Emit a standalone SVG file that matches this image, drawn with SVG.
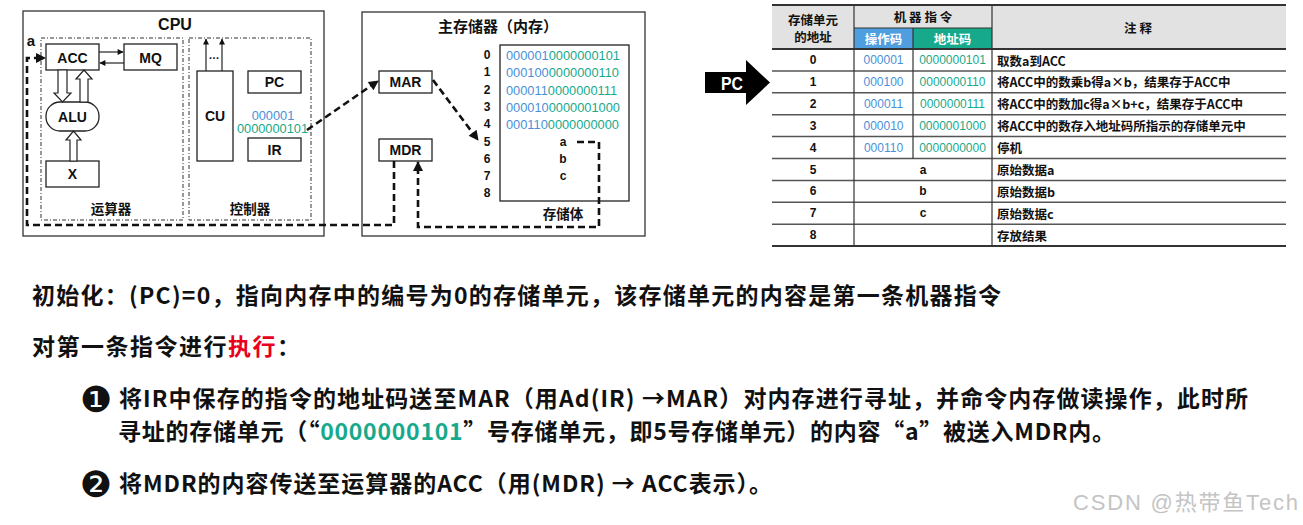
<svg xmlns="http://www.w3.org/2000/svg" width="1303" height="525" viewBox="0 0 1303 525">
<defs>
<style>
.t{font-family:"Liberation Sans","Noto Sans CJK SC",sans-serif;font-weight:bold;fill:#111;text-anchor:middle;dominant-baseline:central}
.c{font-family:"Noto Sans CJK SC",sans-serif;font-weight:bold;fill:#111;text-anchor:middle;dominant-baseline:central}
.box{fill:#fff;stroke:#222;stroke-width:1.3}
.frame{fill:#fff;stroke:#333;stroke-width:1.3}
.dd{fill:none;stroke:#333;stroke-width:1;stroke-dasharray:4 2 1 2}
.dash{fill:none;stroke:#111;stroke-width:2.6;stroke-dasharray:7 4}
.thin{fill:none;stroke:#222;stroke-width:1.2}
.hollow{fill:#fff;stroke:#222;stroke-width:1.2}
.bin{font-family:"Liberation Sans",sans-serif;font-size:12.8px;dominant-baseline:central}
.blue{fill:#4a90d9}
.teal{fill:#17a98b}
.num{font-family:"Liberation Sans",sans-serif;font-weight:bold;font-size:12px;fill:#111;text-anchor:middle;dominant-baseline:central}
.tb{font-family:"Liberation Sans",sans-serif;font-size:12px;text-anchor:middle;dominant-baseline:central}
.note{font-family:"Noto Sans CJK SC",sans-serif;font-weight:bold;font-size:12.5px;fill:#111;dominant-baseline:central}
.hl{stroke:#555;stroke-width:1.5}
.hd{stroke:#333;stroke-width:2}
.vl{stroke:#333;stroke-width:1.2}
.body{font-family:"Noto Sans CJK SC",sans-serif;font-weight:bold;font-size:23px;fill:#111;dominant-baseline:central}
.bullet{font-family:"DejaVu Sans","Noto Sans CJK SC",sans-serif;font-size:36px;fill:#111;text-anchor:middle;dominant-baseline:central}
</style>
<marker id="ah" viewBox="0 0 10 10" refX="9" refY="5" markerWidth="11" markerHeight="10" markerUnits="userSpaceOnUse" orient="auto">
<path d="M0,0 L10,5 L0,10 z" fill="#111"/>
</marker>
<marker id="as" viewBox="0 0 10 10" refX="9" refY="5" markerWidth="8" markerHeight="6" markerUnits="userSpaceOnUse" orient="auto">
<path d="M0,0 L10,5 L0,10 z" fill="#111"/>
</marker>
</defs>
<rect width="1303" height="525" fill="#fff"/>

<!-- CPU frame -->
<g id="cpu">
<rect class="frame" x="23" y="11" width="301" height="225"/>
<text class="t" x="175" y="24" font-size="16">CPU</text>
</g>
<g id="alu-unit">
<rect class="dd" x="41" y="38" width="142" height="182"/>
<text class="c" x="111" y="208" font-size="13.5">运算器</text>
</g>
<g id="ctrl-unit">
<rect class="dd" x="189" y="38" width="122" height="182"/>
<text class="c" x="250" y="208" font-size="13.5">控制器</text>
</g>
<g id="acc"><rect class="box" x="46" y="44" width="53" height="26"/><text class="t" x="72.5" y="57.5" font-size="14">ACC</text></g>
<g id="mq"><rect class="box" x="124" y="44" width="53" height="26"/><text class="t" x="150.5" y="57.5" font-size="14">MQ</text></g>
<g id="alu"><rect class="box" x="46" y="102" width="53" height="29" rx="14" ry="14"/><text class="t" x="72.5" y="117" font-size="14">ALU</text></g>
<g id="x"><rect class="box" x="46" y="161" width="53" height="26"/><text class="t" x="72.5" y="174" font-size="14">X</text></g>
<g id="cu"><rect class="box" x="197" y="71" width="36" height="90"/><text class="t" x="215" y="116" font-size="14">CU</text></g>
<g id="pc"><rect class="box" x="248" y="71" width="53" height="22"/><text class="t" x="274.5" y="82" font-size="14">PC</text></g>
<g id="ir"><rect class="box" x="248" y="138" width="53" height="23"/><text class="t" x="274.5" y="149.5" font-size="14">IR</text></g>
<g id="ir-content">
<text class="bin blue" x="273" y="115" text-anchor="middle" font-size="12.4">000001</text>
<text class="bin teal" x="272.5" y="128" text-anchor="middle" font-size="12.4">0000000101</text>
</g>
<text class="t" x="31" y="40" font-size="15">a</text>

<!-- Memory -->
<g id="memory">
<rect class="frame" x="362" y="12" width="283" height="224"/>
<text class="c" x="498" y="25" font-size="15">主存储器（内存）</text>
</g>
<g id="mar"><rect class="box" x="379" y="71" width="53" height="22"/><text class="t" x="405.5" y="82" font-size="14">MAR</text></g>
<g id="mdr"><rect class="box" x="379" y="139" width="53" height="22"/><text class="t" x="405.5" y="150" font-size="14">MDR</text></g>
<g id="storage">
<rect class="box" x="500" y="45" width="129" height="156"/>
<text class="c" x="563" y="213" font-size="13.5">存储体</text>
<g class="num">
<text x="487" y="55">0</text><text x="487" y="72.3">1</text><text x="487" y="89.6">2</text><text x="487" y="106.9">3</text><text x="487" y="124.2">4</text><text x="487" y="141.5">5</text><text x="487" y="158.8">6</text><text x="487" y="176.1">7</text><text x="487" y="193.4">8</text>
</g>
<text class="bin" x="506" y="55"><tspan class="blue">000001</tspan><tspan class="teal">0000000101</tspan></text>
<text class="bin" x="506" y="72.3"><tspan class="blue">000100</tspan><tspan class="teal">0000000110</tspan></text>
<text class="bin" x="506" y="89.6"><tspan class="blue">000011</tspan><tspan class="teal">0000000111</tspan></text>
<text class="bin" x="506" y="106.9"><tspan class="blue">000010</tspan><tspan class="teal">0000001000</tspan></text>
<text class="bin" x="506" y="124.2"><tspan class="blue">000110</tspan><tspan class="teal">0000000000</tspan></text>
<g class="num" font-size="13">
<text x="563" y="141.5">a</text><text x="563" y="158.8">b</text><text x="563" y="176.1">c</text>
</g>
</g>

<!-- Connectors -->
<g id="connectors">
<line class="thin" x1="99" y1="52" x2="123" y2="52" marker-end="url(#as)"/>
<line class="thin" x1="124" y1="63" x2="100" y2="63" marker-end="url(#as)"/>
<polygon class="hollow" points="58,70 67,70 67,93 71,93 62.5,102 54,93 58,93"/>
<polygon class="hollow" points="80,102 88,102 88,79 92,79 84,70 76,79 80,79"/>
<polygon class="hollow" points="70,161 77,161 77,140 81,140 73.5,131 66,140 70,140"/>
<line class="thin" x1="206" y1="71" x2="206" y2="39" marker-end="url(#as)"/>
<line class="thin" x1="222" y1="71" x2="222" y2="39" marker-end="url(#as)"/>
<text class="t" x="214" y="55" font-size="11">…</text>
<path class="dash" d="M394,161 V225 H27 V58 H45" marker-end="url(#ah)"/>
<path class="dash" d="M577,142 H599 V227 H418 V162" marker-end="url(#ah)"/>
<path class="dash" d="M307,130 L378,81" marker-end="url(#ah)"/>
<path class="dash" d="M433,80 L478,140" marker-end="url(#ah)"/>
</g>

<!-- PC pointer -->
<g id="pc-pointer">
<rect x="705" y="72" width="43" height="21" fill="#000"/>
<polygon points="746,60 770,82.5 746,105" fill="#000"/>
<text x="732" y="83" font-family="Liberation Sans,sans-serif" font-weight="bold" font-size="19" fill="#fff" text-anchor="middle" dominant-baseline="central" textLength="22" lengthAdjust="spacingAndGlyphs">PC</text>
</g>

<!-- Table -->
<g id="table">
<rect x="772" y="5" width="514" height="44" fill="#e2e2e2"/>
<rect x="854" y="28" width="59" height="21" fill="#4f9ee0"/>
<rect x="913" y="28" width="79" height="21" fill="#17a98b"/>
<text class="c" x="813" y="19" font-size="12.5">存储单元</text>
<text class="c" x="813" y="36" font-size="12.5">的地址</text>
<text class="c" x="923" y="16" font-size="12.5">机 器 指 令</text>
<text class="c" x="883.5" y="38.5" font-size="12.5" style="fill:#fff">操作码</text>
<text class="c" x="952.5" y="38.5" font-size="12.5" style="fill:#fff">地址码</text>
<text class="c" x="1138" y="27" font-size="12.5">注  释</text>
<line class="hd" x1="772" y1="5" x2="1286" y2="5"/>
<line class="vl" x1="854" y1="28" x2="992" y2="28"/>
<line class="hd" x1="772" y1="49" x2="1286" y2="49"/>
<g class="hl">
<line x1="772" y1="70.9" x2="1286" y2="70.9"/>
<line x1="772" y1="92.8" x2="1286" y2="92.8"/>
<line x1="772" y1="114.7" x2="1286" y2="114.7"/>
<line x1="772" y1="136.6" x2="1286" y2="136.6"/>
<line x1="772" y1="158.5" x2="1286" y2="158.5"/>
<line x1="772" y1="180.4" x2="1286" y2="180.4"/>
<line x1="772" y1="202.3" x2="1286" y2="202.3"/>
<line x1="772" y1="224.2" x2="1286" y2="224.2"/>
</g>
<line class="hd" x1="772" y1="246" x2="1286" y2="246"/>
<line class="vl" x1="854" y1="5" x2="854" y2="246"/>
<line class="vl" x1="992" y1="5" x2="992" y2="246"/>
<line class="vl" x1="913" y1="28" x2="913" y2="158.5"/>
<g class="num">
<text x="813" y="60">0</text><text x="813" y="81.9">1</text><text x="813" y="103.8">2</text><text x="813" y="125.7">3</text><text x="813" y="147.6">4</text><text x="813" y="169.5">5</text><text x="813" y="191.4">6</text><text x="813" y="213.3">7</text><text x="813" y="235.2">8</text>
</g>
<g class="tb blue">
<text x="883.5" y="60">000001</text><text x="883.5" y="81.9">000100</text><text x="883.5" y="103.8">000011</text><text x="883.5" y="125.7">000010</text><text x="883.5" y="147.6">000110</text>
</g>
<g class="tb teal">
<text x="952.5" y="60">0000000101</text><text x="952.5" y="81.9">0000000110</text><text x="952.5" y="103.8">0000000111</text><text x="952.5" y="125.7">0000001000</text><text x="952.5" y="147.6">0000000000</text>
</g>
<g class="num">
<text x="923" y="169.5">a</text><text x="923" y="191.4">b</text><text x="923" y="213.3">c</text>
</g>
<g class="note">
<text x="997" y="60">取数a到ACC</text>
<text x="997" y="81.9">将ACC中的数乘b得a×b，结果存于ACC中</text>
<text x="997" y="103.8">将ACC中的数加c得a×b+c，结果存于ACC中</text>
<text x="997" y="125.7">将ACC中的数存入地址码所指示的存储单元中</text>
<text x="997" y="147.6">停机</text>
<text x="997" y="169.5">原始数据a</text>
<text x="997" y="191.4">原始数据b</text>
<text x="997" y="213.3">原始数据c</text>
<text x="997" y="235.2">存放结果</text>
</g>
</g>

<!-- Body text -->
<g id="body-text">
<text class="body" x="32" y="294" textLength="969" lengthAdjust="spacing">初始化：(PC)=0，指向内存中的编号为0的存储单元，该存储单元的内容是第一条机器指令</text>
<text class="body" x="32" y="345" textLength="268" lengthAdjust="spacing">对第一条指令进行<tspan fill="#e8001c">执行</tspan>：</text>
<text class="bullet" x="96" y="399">❶</text>
<text class="body" x="119" y="397" textLength="1129" lengthAdjust="spacing">将IR中保存的指令的地址码送至MAR（用Ad(IR) →MAR）对内存进行寻址，并命令内存做读操作，此时所</text>
<text class="body" x="118" y="430" textLength="997" lengthAdjust="spacing">寻址的存储单元（“<tspan fill="#17a98b">0000000101</tspan>”号存储单元，即5号存储单元）的内容“a”被送入MDR内。</text>
<text class="bullet" x="96" y="484">❷</text>
<text class="body" x="119" y="482" textLength="653" lengthAdjust="spacing">将MDR的内容传送至运算器的ACC（用(MDR) → ACC表示）。</text>
<text x="1073" y="502" font-family="Liberation Sans,Noto Sans CJK SC,sans-serif" font-size="22" fill="#c4c4c4" dominant-baseline="central" textLength="225" lengthAdjust="spacing">CSDN @热带鱼Tech</text>
</g>
</svg>
